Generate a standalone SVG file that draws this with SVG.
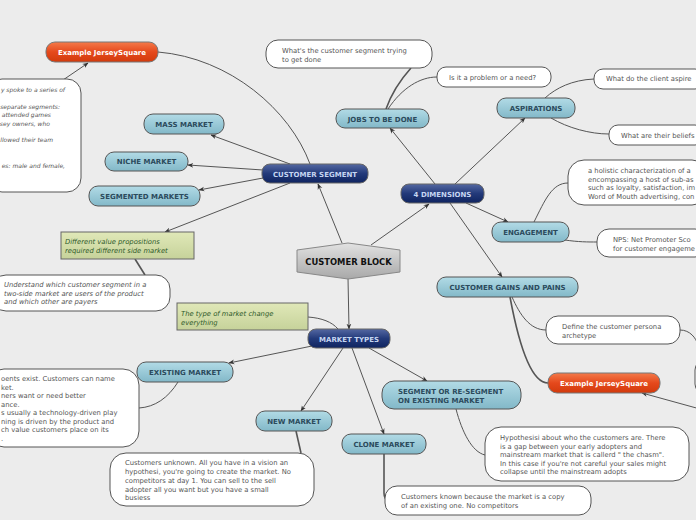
<svg xmlns="http://www.w3.org/2000/svg" width="696" height="520" viewBox="0 0 696 520">
<defs>
<linearGradient id="gBlue" x1="0" y1="0" x2="0" y2="1"><stop offset="0" stop-color="#b2dbe6"/><stop offset="1" stop-color="#82b8c8"/></linearGradient>
<linearGradient id="gNavy" x1="0" y1="0" x2="0" y2="1"><stop offset="0" stop-color="#5468a2"/><stop offset="0.5" stop-color="#233a7a"/><stop offset="1" stop-color="#0f2460"/></linearGradient>
<linearGradient id="gOrange" x1="0" y1="0" x2="0" y2="1"><stop offset="0" stop-color="#f47a4a"/><stop offset="0.5" stop-color="#e5491c"/><stop offset="1" stop-color="#d23a0c"/></linearGradient>
<linearGradient id="gGreen" x1="0" y1="0" x2="0" y2="1"><stop offset="0" stop-color="#e0e8b8"/><stop offset="1" stop-color="#c6d29a"/></linearGradient>
<linearGradient id="gGray" x1="0" y1="0" x2="0" y2="1"><stop offset="0" stop-color="#e2e2e2"/><stop offset="1" stop-color="#a8a8a8"/></linearGradient>
<marker id="arr" viewBox="0 0 10 10" refX="9" refY="5" markerWidth="6" markerHeight="6" orient="auto"><path d="M0,1 L10,5 L0,9 L3,5 Z" fill="#333"/></marker>
</defs>
<style>
.bg{fill:#ececec}
.blue{fill:url(#gBlue);stroke:#555;stroke-width:1}
.navy{fill:url(#gNavy);stroke:#666;stroke-width:1}
.orange{fill:url(#gOrange);stroke:#777;stroke-width:1}
.green{fill:url(#gGreen);stroke:#666;stroke-width:1}
.note{fill:#fff;stroke:#555;stroke-width:1}
.tb{font-family:"DejaVu Sans",Verdana,sans-serif;font-size:7px;font-weight:bold;fill:#2b4a5c;text-anchor:middle}
.tn{font-family:"DejaVu Sans",Verdana,sans-serif;font-size:7px;font-weight:bold;fill:#c6d6f2;text-anchor:middle}
.to{font-family:"DejaVu Sans",Verdana,sans-serif;font-size:7px;font-weight:bold;fill:#fff;text-anchor:middle}
.tt{font-family:"DejaVu Sans",Verdana,sans-serif;font-size:6.8px;fill:#555}
.ti{font-family:"DejaVu Sans",Verdana,sans-serif;font-size:6.8px;font-style:italic;fill:#555}
.tg{font-family:"DejaVu Sans",Verdana,sans-serif;font-size:6.8px;font-style:italic;fill:#2f5a2a}
.c{fill:none;stroke:#555;stroke-width:1}
.ca{fill:none;stroke:#555;stroke-width:1;marker-end:url(#arr)}
.c2{fill:none;stroke:#555;stroke-width:1.6}
</style>
<rect class="bg" x="0" y="0" width="696" height="520"/>

<g id="connectors">
<line class="ca" x1="342" y1="243" x2="318" y2="184"/>
<line class="ca" x1="371" y1="245" x2="429" y2="204"/>
<line class="ca" x1="348" y1="278" x2="349" y2="329"/>
<line class="ca" x1="290" y1="164" x2="211" y2="135"/>
<line class="ca" x1="263" y1="170" x2="188" y2="165"/>
<line class="ca" x1="263" y1="178" x2="199" y2="190"/>
<line class="ca" x1="290" y1="183" x2="165" y2="232"/>
<path class="c" d="M158,52 C230,58 290,110 310,164"/>
<line class="ca" x1="63" y1="80" x2="88" y2="63"/>
<line class="c2" x1="135" y1="259" x2="145" y2="275"/>
<line class="ca" x1="435" y1="184" x2="390" y2="128"/>
<line class="ca" x1="455" y1="184" x2="525" y2="118"/>
<line class="ca" x1="466" y1="203" x2="508" y2="222"/>
<line class="ca" x1="450" y1="203" x2="502" y2="277"/>
<path class="c2" d="M386,109 C392,92 402,78 411,68"/>
<path class="c" d="M388,109 C402,88 420,77 437,77"/>
<path class="c" d="M545,98 C556,88 572,80 594,79"/>
<path class="c" d="M551,118 C568,128 590,134 609,134"/>
<path class="c" d="M534,222 C545,200 552,183 568,183"/>
<path class="c" d="M565,240 C578,242 588,242 597,242"/>
<path class="c" d="M512,297 C520,315 530,330 546,330"/>
<path class="c2" d="M510,297 C518,340 530,383 548,383"/>
<path class="c" d="M680,330 C690,330 696,338 698,345"/>
<line class="ca" x1="700" y1="409" x2="642" y2="393"/>
<line class="ca" x1="312" y1="346" x2="229" y2="363"/>
<line class="ca" x1="343" y1="348" x2="301" y2="411"/>
<line class="ca" x1="352" y1="348" x2="384" y2="434"/>
<line class="ca" x1="369" y1="348" x2="427" y2="381"/>
<path class="c" d="M308,317 C322,318 332,322 338,329"/>
<path class="c" d="M178,382 C168,398 155,407 139,408"/>
<line class="c2" x1="296" y1="431" x2="301" y2="453"/>
<path class="c2" d="M384,454 L384,493 Q384,500 389,500"/>
<path class="c" d="M456,409 C462,432 472,452 485,455"/>
</g>

<g id="customer-block">
<path d="M297,250 L348,243 L400,250 L400,272 L348,279 L297,272 Z" fill="url(#gGray)" stroke="#888" stroke-width="1"/>
<text x="348.5" y="264.5" font-family="'DejaVu Sans',Verdana,sans-serif" font-size="8.4" font-weight="bold" fill="#111" text-anchor="middle">CUSTOMER BLOCK</text>
</g>

<g id="customer-segment"><rect class="navy" x="262" y="164" width="106" height="19" rx="8"/><text class="tn" x="315" y="176.5">CUSTOMER SEGMENT</text></g>
<g id="four-dimensions"><rect class="navy" x="401" y="184" width="83" height="19" rx="8"/><text class="tn" x="442.5" y="196.5">4 DIMENSIONS</text></g>
<g id="market-types"><rect class="navy" x="308" y="329" width="82" height="19" rx="8"/><text class="tn" x="349" y="341.5">MARKET TYPES</text></g>

<g id="mass-market"><rect class="blue" x="144" y="114" width="80" height="20" rx="9"/><text class="tb" x="184" y="126.5">MASS MARKET</text></g>
<g id="niche-market"><rect class="blue" x="105" y="152" width="83" height="19" rx="9"/><text class="tb" x="146.5" y="164">NICHE MARKET</text></g>
<g id="segmented-markets"><rect class="blue" x="89" y="186" width="111" height="20" rx="9"/><text class="tb" x="144.5" y="198.5">SEGMENTED MARKETS</text></g>
<g id="jobs"><rect class="blue" x="336" y="109" width="93" height="19" rx="9"/><text class="tb" x="382.5" y="121.5">JOBS TO BE DONE</text></g>
<g id="aspirations"><rect class="blue" x="497" y="98" width="78" height="20" rx="9"/><text class="tb" x="536" y="110.5">ASPIRATIONS</text></g>
<g id="engagement"><rect class="blue" x="492" y="222" width="77" height="20" rx="9"/><text class="tb" x="530.5" y="234.5">ENGAGEMENT</text></g>
<g id="gains-pains"><rect class="blue" x="437" y="277" width="141" height="20" rx="9"/><text class="tb" x="507.5" y="289.5">CUSTOMER GAINS AND PAINS</text></g>
<g id="existing-market"><rect class="blue" x="137" y="362" width="96" height="20" rx="9"/><text class="tb" x="185" y="374.5">EXISTING MARKET</text></g>
<g id="new-market"><rect class="blue" x="256" y="411" width="76" height="20" rx="9"/><text class="tb" x="294" y="423.5">NEW MARKET</text></g>
<g id="clone-market"><rect class="blue" x="342" y="434" width="84" height="20" rx="9"/><text class="tb" x="384" y="447">CLONE MARKET</text></g>
<g id="segment-existing"><rect class="blue" x="382" y="381" width="139" height="28" rx="12"/><text class="tb" x="398" y="394" style="text-anchor:start">SEGMENT OR RE-SEGMENT</text><text class="tb" x="398" y="403" style="text-anchor:start">ON EXISTING MARKET</text></g>

<g id="jersey-top"><rect class="orange" x="46" y="42" width="112" height="20" rx="9"/><text class="to" x="102" y="54.5">Example JerseySquare</text></g>
<g id="jersey-right"><rect class="orange" x="548" y="373" width="112" height="20" rx="9"/><text class="to" x="604" y="385.5">Example JerseySquare</text></g>

<g id="note-jersey-left"><rect class="note" x="-12" y="79" width="93" height="113" rx="14"/>
<text class="ti" style="font-size:6px;text-anchor:end" x="65" y="92">y spoke to a series of</text>
<text class="ti" style="font-size:6px;text-anchor:end" x="60" y="109">separate segments:</text>
<text class="ti" style="font-size:6px;text-anchor:end" x="51" y="117">attended games</text>
<text class="ti" style="font-size:6px;text-anchor:end" x="50" y="126">sey owners, who</text>
<text class="ti" style="font-size:6px;text-anchor:end" x="53" y="142">llowed their team</text>
<text class="ti" style="font-size:6px;text-anchor:end" x="65" y="168">es: male and female,</text>
</g>
<g id="note-different"><rect class="green" x="61" y="232" width="133" height="27"/><text class="tg" x="65" y="244">Different value propositions</text><text class="tg" x="65" y="252.5">required different side market</text></g>
<g id="note-understand"><rect class="note" x="-8" y="275" width="178" height="36" rx="14"/><text class="ti" x="4" y="287">Understand which customer segment in a</text><text class="ti" x="4" y="296">two-side market are users of the product</text><text class="ti" x="4" y="304">and which other are payers</text></g>
<g id="note-type"><rect class="green" x="177" y="303" width="131" height="27"/><text class="tg" x="181" y="316">The type of market change</text><text class="tg" x="181" y="324.5">everything</text></g>
<g id="note-trying"><rect class="note" x="266" y="40" width="166" height="28" rx="12"/><text class="tt" x="282" y="53">What's the customer segment trying</text><text class="tt" x="282" y="61.5">to get done</text></g>
<g id="note-problem"><rect class="note" x="437" y="67" width="114" height="20" rx="9"/><text class="tt" x="449" y="79.5">Is it a problem or a need?</text></g>
<g id="note-aspire"><rect class="note" x="594" y="69" width="110" height="20" rx="9"/><text class="tt" x="606" y="81">What do the client aspire</text></g>
<g id="note-beliefs"><rect class="note" x="609" y="125" width="95" height="20" rx="9"/><text class="tt" x="621" y="137.5">What are their beliefs</text></g>
<g id="note-holistic"><rect class="note" x="568" y="160" width="140" height="45" rx="16"/><text class="tt" x="588" y="173">a holistic characterization of a</text><text class="tt" x="588" y="181.5">encompassing a host of sub-as</text><text class="tt" x="588" y="190">such as loyalty, satisfaction, im</text><text class="tt" x="588" y="198.5">Word of Mouth advertising, con</text></g>
<g id="note-nps"><rect class="note" x="597" y="229" width="110" height="28" rx="12"/><text class="tt" x="613" y="242">NPS: Net Promoter Sco</text><text class="tt" x="613" y="250.5">for customer engageme</text></g>
<g id="note-persona"><rect class="note" x="546" y="316" width="134" height="28" rx="12"/><text class="tt" x="562" y="329">Define the customer persona</text><text class="tt" x="562" y="337.5">archetype</text></g>
<g id="note-right-edge"><rect class="note" x="695" y="360" width="40" height="34" rx="10"/></g>
<g id="note-hypothesis"><rect class="note" x="485" y="427" width="204" height="54" rx="16"/><text class="tt" x="500" y="440">Hypothesisi about who the customers are. There</text><text class="tt" x="500" y="448.5">is a gap between your early adopters and</text><text class="tt" x="500" y="457">mainstream market that is callerd " the chasm".</text><text class="tt" x="500" y="465.5">In this case if you're not careful your sales might</text><text class="tt" x="500" y="474">collapse until the mainstream adopts</text></g>
<g id="note-clone"><rect class="note" x="385" y="486" width="206" height="29" rx="12"/><text class="tt" x="401" y="499">Customers known because the market is a copy</text><text class="tt" x="401" y="507.5">of an existing one. No competitors</text></g>
<g id="note-new"><rect class="note" x="110" y="453" width="204" height="53" rx="16"/><text class="tt" x="125" y="465">Customers unknown. All you have in a vision an</text><text class="tt" x="125" y="474">hypothesi, you're going to create the  market. No</text><text class="tt" x="125" y="483">competitors at day 1. You can sell to the sell</text><text class="tt" x="125" y="491.5">adopter all you want but you have a small</text><text class="tt" x="125" y="500">busiess</text></g>
<g id="note-existing"><rect class="note" x="-12" y="369" width="151" height="78" rx="16"/>
<text class="tt" x="1" y="381">oents exist. Customers can name</text>
<text class="tt" x="1" y="389.5">ket.</text>
<text class="tt" x="1" y="398">ners want or need better</text>
<text class="tt" x="1" y="406.5">ance.</text>
<text class="tt" x="1" y="415">s usually a technology-driven play</text>
<text class="tt" x="1" y="423.5">ning is driven by the product and</text>
<text class="tt" x="1" y="432">ch value customers place on its</text>
<text class="tt" x="1" y="440.5">.</text>
</g>
</svg>
